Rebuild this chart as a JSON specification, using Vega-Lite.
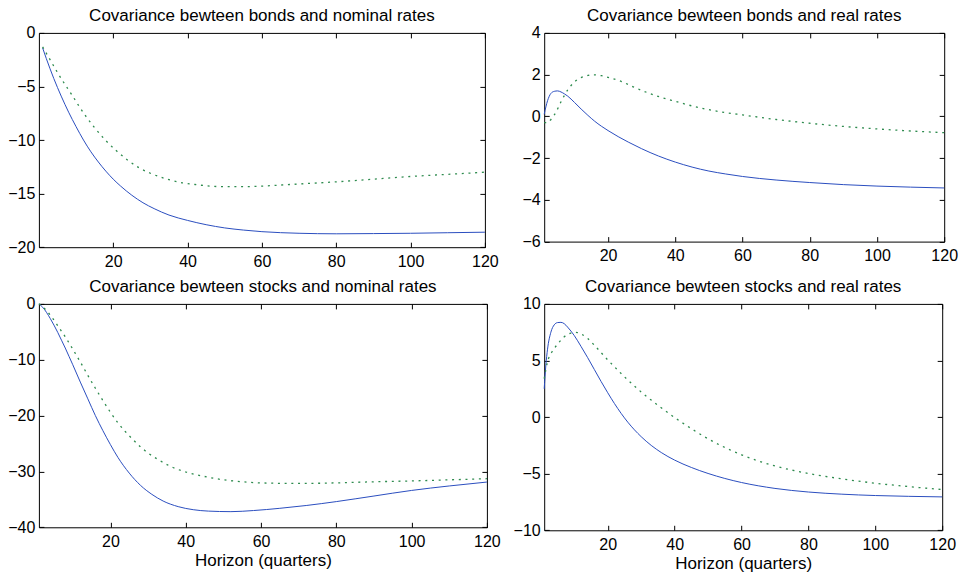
{
  "$schema": "https://vega.github.io/schema/vega-lite/v6.json",
  "background": "white",
  "padding": {"left": 6.9, "top": 6.9, "right": 5, "bottom": 5},
  "config": {
    "font": "Liberation Sans",
    "view": {"stroke": "#000", "strokeWidth": 1},
    "axis": {
      "domain": false, "grid": false,
      "labelFont": "Liberation Sans", "labelFontSize": 16, "labelColor": "#000",
      "labelFlush": false, "labelOverlap": false,
      "tickColor": "#000", "tickSize": -5, "tickWidth": 1,
      "titleFont": "Liberation Sans", "titleFontSize": 17, "titleFontWeight": "normal", "titleColor": "#000", "titlePadding": 3
    },
    "axisX": {"labelPadding": 11.3},
    "axisY": {"labelPadding": 9},
    "axisTop": {"minExtent": 0, "maxExtent": 0},
    "axisRight": {"minExtent": 0, "maxExtent": 0},
    "title": {"font": "Liberation Sans", "fontSize": 17, "fontWeight": "normal", "color": "#000", "anchor": "middle", "baseline": "alphabetic", "offset": -0.5, "frame": "group"}
  },
  "datasets": {
    "tl": [
      {"s":"solid","h":1,"v":-1.4},{"s":"solid","h":2,"v":-2.4},{"s":"solid","h":3,"v":-3.35},{"s":"solid","h":4,"v":-4.25},{"s":"solid","h":5,"v":-5.1},{"s":"solid","h":6,"v":-5.9},{"s":"solid","h":8,"v":-7.4},{"s":"solid","h":10,"v":-8.75},{"s":"solid","h":12,"v":-10.0},{"s":"solid","h":14,"v":-11.1},{"s":"solid","h":16,"v":-12.05},{"s":"solid","h":18,"v":-12.9},{"s":"solid","h":20,"v":-13.65},{"s":"solid","h":22,"v":-14.3},{"s":"solid","h":25,"v":-15.15},{"s":"solid","h":28,"v":-15.85},{"s":"solid","h":31,"v":-16.4},{"s":"solid","h":35,"v":-17.0},{"s":"solid","h":40,"v":-17.5},{"s":"solid","h":45,"v":-17.9},{"s":"solid","h":50,"v":-18.2},{"s":"solid","h":55,"v":-18.4},{"s":"solid","h":60,"v":-18.55},{"s":"solid","h":70,"v":-18.7},{"s":"solid","h":80,"v":-18.75},{"s":"solid","h":90,"v":-18.73},{"s":"solid","h":100,"v":-18.7},{"s":"solid","h":110,"v":-18.65},{"s":"solid","h":120,"v":-18.6},
      {"s":"dotted","h":1,"v":-1.3},{"s":"dotted","h":3,"v":-2.5},{"s":"dotted","h":5,"v":-3.7},{"s":"dotted","h":7,"v":-4.8},{"s":"dotted","h":9,"v":-5.85},{"s":"dotted","h":11,"v":-6.95},{"s":"dotted","h":13,"v":-7.95},{"s":"dotted","h":15,"v":-8.85},{"s":"dotted","h":18,"v":-10.05},{"s":"dotted","h":21,"v":-11.05},{"s":"dotted","h":24,"v":-11.9},{"s":"dotted","h":27,"v":-12.6},{"s":"dotted","h":30,"v":-13.1},{"s":"dotted","h":34,"v":-13.6},{"s":"dotted","h":38,"v":-13.95},{"s":"dotted","h":42,"v":-14.15},{"s":"dotted","h":46,"v":-14.3},{"s":"dotted","h":50,"v":-14.35},{"s":"dotted","h":55,"v":-14.35},{"s":"dotted","h":60,"v":-14.3},{"s":"dotted","h":65,"v":-14.2},{"s":"dotted","h":70,"v":-14.1},{"s":"dotted","h":80,"v":-13.9},{"s":"dotted","h":90,"v":-13.65},{"s":"dotted","h":100,"v":-13.4},{"s":"dotted","h":110,"v":-13.2},{"s":"dotted","h":120,"v":-13.0}
    ],
    "tr": [
      {"s":"solid","h":1,"v":0.1},{"s":"solid","h":2,"v":0.75},{"s":"solid","h":3,"v":1.1},{"s":"solid","h":4,"v":1.2},{"s":"solid","h":5,"v":1.22},{"s":"solid","h":6,"v":1.17},{"s":"solid","h":7,"v":1.08},{"s":"solid","h":8,"v":0.97},{"s":"solid","h":10,"v":0.67},{"s":"solid","h":12,"v":0.35},{"s":"solid","h":14,"v":0.05},{"s":"solid","h":16,"v":-0.23},{"s":"solid","h":18,"v":-0.47},{"s":"solid","h":20,"v":-0.68},{"s":"solid","h":23,"v":-0.97},{"s":"solid","h":26,"v":-1.23},{"s":"solid","h":30,"v":-1.55},{"s":"solid","h":35,"v":-1.9},{"s":"solid","h":40,"v":-2.19},{"s":"solid","h":45,"v":-2.43},{"s":"solid","h":50,"v":-2.62},{"s":"solid","h":55,"v":-2.76},{"s":"solid","h":60,"v":-2.88},{"s":"solid","h":70,"v":-3.05},{"s":"solid","h":80,"v":-3.17},{"s":"solid","h":90,"v":-3.27},{"s":"solid","h":100,"v":-3.34},{"s":"solid","h":110,"v":-3.39},{"s":"solid","h":120,"v":-3.43},
      {"s":"dotted","h":1,"v":-0.3},{"s":"dotted","h":2,"v":-0.3},{"s":"dotted","h":3,"v":-0.15},{"s":"dotted","h":4,"v":0.07},{"s":"dotted","h":5,"v":0.36},{"s":"dotted","h":6,"v":0.7},{"s":"dotted","h":7,"v":1.0},{"s":"dotted","h":8,"v":1.27},{"s":"dotted","h":9,"v":1.48},{"s":"dotted","h":10,"v":1.65},{"s":"dotted","h":12,"v":1.86},{"s":"dotted","h":14,"v":1.96},{"s":"dotted","h":16,"v":1.99},{"s":"dotted","h":18,"v":1.95},{"s":"dotted","h":20,"v":1.87},{"s":"dotted","h":24,"v":1.67},{"s":"dotted","h":28,"v":1.38},{"s":"dotted","h":32,"v":1.12},{"s":"dotted","h":36,"v":0.9},{"s":"dotted","h":40,"v":0.72},{"s":"dotted","h":45,"v":0.5},{"s":"dotted","h":50,"v":0.32},{"s":"dotted","h":55,"v":0.18},{"s":"dotted","h":60,"v":0.07},{"s":"dotted","h":70,"v":-0.15},{"s":"dotted","h":80,"v":-0.33},{"s":"dotted","h":90,"v":-0.48},{"s":"dotted","h":100,"v":-0.6},{"s":"dotted","h":110,"v":-0.7},{"s":"dotted","h":120,"v":-0.78}
    ],
    "bl": [
      {"s":"solid","h":1,"v":0},{"s":"solid","h":2,"v":-0.6},{"s":"solid","h":3,"v":-1.5},{"s":"solid","h":4,"v":-2.6},{"s":"solid","h":5,"v":-3.8},{"s":"solid","h":6,"v":-5.1},{"s":"solid","h":7,"v":-6.5},{"s":"solid","h":8,"v":-7.9},{"s":"solid","h":9,"v":-9.4},{"s":"solid","h":10,"v":-10.9},{"s":"solid","h":12,"v":-14.0},{"s":"solid","h":14,"v":-17.0},{"s":"solid","h":16,"v":-20.0},{"s":"solid","h":18,"v":-22.7},{"s":"solid","h":20,"v":-25.2},{"s":"solid","h":22,"v":-27.5},{"s":"solid","h":25,"v":-30.3},{"s":"solid","h":28,"v":-32.5},{"s":"solid","h":31,"v":-34.1},{"s":"solid","h":34,"v":-35.3},{"s":"solid","h":38,"v":-36.3},{"s":"solid","h":42,"v":-36.85},{"s":"solid","h":46,"v":-37.1},{"s":"solid","h":52,"v":-37.2},{"s":"solid","h":58,"v":-37.0},{"s":"solid","h":65,"v":-36.6},{"s":"solid","h":72,"v":-36.1},{"s":"solid","h":80,"v":-35.4},{"s":"solid","h":90,"v":-34.4},{"s":"solid","h":100,"v":-33.4},{"s":"solid","h":110,"v":-32.6},{"s":"solid","h":120,"v":-31.9},
      {"s":"dotted","h":1,"v":0},{"s":"dotted","h":2,"v":-0.5},{"s":"dotted","h":3,"v":-1.2},{"s":"dotted","h":4,"v":-2.0},{"s":"dotted","h":5,"v":-2.9},{"s":"dotted","h":6,"v":-3.9},{"s":"dotted","h":8,"v":-5.9},{"s":"dotted","h":10,"v":-8.1},{"s":"dotted","h":12,"v":-10.4},{"s":"dotted","h":14,"v":-12.8},{"s":"dotted","h":16,"v":-15.1},{"s":"dotted","h":18,"v":-17.3},{"s":"dotted","h":20,"v":-19.4},{"s":"dotted","h":22,"v":-21.3},{"s":"dotted","h":24,"v":-22.9},{"s":"dotted","h":26,"v":-24.3},{"s":"dotted","h":28,"v":-25.6},{"s":"dotted","h":30,"v":-26.7},{"s":"dotted","h":33,"v":-28.0},{"s":"dotted","h":36,"v":-29.1},{"s":"dotted","h":40,"v":-30.1},{"s":"dotted","h":45,"v":-30.9},{"s":"dotted","h":50,"v":-31.5},{"s":"dotted","h":55,"v":-31.85},{"s":"dotted","h":60,"v":-32.05},{"s":"dotted","h":70,"v":-32.15},{"s":"dotted","h":80,"v":-32.05},{"s":"dotted","h":90,"v":-31.85},{"s":"dotted","h":100,"v":-31.7},{"s":"dotted","h":110,"v":-31.5},{"s":"dotted","h":120,"v":-31.3}
    ],
    "br": [
      {"s":"solid","h":1,"v":2.5},{"s":"solid","h":1.5,"v":4.6},{"s":"solid","h":2,"v":6.0},{"s":"solid","h":3,"v":7.5},{"s":"solid","h":4,"v":8.15},{"s":"solid","h":5,"v":8.35},{"s":"solid","h":6,"v":8.37},{"s":"solid","h":7,"v":8.25},{"s":"solid","h":8,"v":7.95},{"s":"solid","h":10,"v":7.2},{"s":"solid","h":12,"v":6.25},{"s":"solid","h":14,"v":5.25},{"s":"solid","h":16,"v":4.2},{"s":"solid","h":18,"v":3.15},{"s":"solid","h":20,"v":2.15},{"s":"solid","h":22,"v":1.2},{"s":"solid","h":24,"v":0.33},{"s":"solid","h":26,"v":-0.45},{"s":"solid","h":28,"v":-1.13},{"s":"solid","h":30,"v":-1.73},{"s":"solid","h":33,"v":-2.5},{"s":"solid","h":36,"v":-3.13},{"s":"solid","h":40,"v":-3.8},{"s":"solid","h":45,"v":-4.45},{"s":"solid","h":50,"v":-4.98},{"s":"solid","h":55,"v":-5.42},{"s":"solid","h":60,"v":-5.78},{"s":"solid","h":70,"v":-6.3},{"s":"solid","h":80,"v":-6.62},{"s":"solid","h":90,"v":-6.81},{"s":"solid","h":100,"v":-6.93},{"s":"solid","h":110,"v":-7.0},{"s":"solid","h":120,"v":-7.05},
      {"s":"dotted","h":1,"v":3.4},{"s":"dotted","h":1.5,"v":4.2},{"s":"dotted","h":2,"v":4.9},{"s":"dotted","h":3,"v":5.6},{"s":"dotted","h":4,"v":6.05},{"s":"dotted","h":5,"v":6.45},{"s":"dotted","h":6,"v":6.8},{"s":"dotted","h":7,"v":7.1},{"s":"dotted","h":8,"v":7.3},{"s":"dotted","h":9,"v":7.42},{"s":"dotted","h":10,"v":7.48},{"s":"dotted","h":11,"v":7.47},{"s":"dotted","h":12,"v":7.35},{"s":"dotted","h":14,"v":6.95},{"s":"dotted","h":16,"v":6.35},{"s":"dotted","h":18,"v":5.7},{"s":"dotted","h":20,"v":5.05},{"s":"dotted","h":22,"v":4.45},{"s":"dotted","h":24,"v":3.85},{"s":"dotted","h":26,"v":3.28},{"s":"dotted","h":28,"v":2.74},{"s":"dotted","h":30,"v":2.22},{"s":"dotted","h":33,"v":1.5},{"s":"dotted","h":36,"v":0.82},{"s":"dotted","h":40,"v":-0.04},{"s":"dotted","h":45,"v":-1.02},{"s":"dotted","h":50,"v":-1.92},{"s":"dotted","h":55,"v":-2.68},{"s":"dotted","h":60,"v":-3.33},{"s":"dotted","h":65,"v":-3.87},{"s":"dotted","h":70,"v":-4.32},{"s":"dotted","h":80,"v":-4.98},{"s":"dotted","h":90,"v":-5.46},{"s":"dotted","h":100,"v":-5.84},{"s":"dotted","h":110,"v":-6.14},{"s":"dotted","h":120,"v":-6.4}
    ]
  },
  "bounds": "flush",
  "columns": 2,
  "spacing": {"row": 56, "column": 57.3},
  "concat": [
    {
      "width": 446, "height": 214.3,
      "title": "Covariance bewteen bonds and nominal rates",
      "data": {"name": "tl"},
      "resolve": {"axis": {"x": "independent", "y": "independent"}},
      "layer": [
        {
          "transform": [{"filter": "datum.s === 'solid'"}],
          "mark": {"type": "line", "color": "#2a4dbf", "strokeWidth": 1, "interpolate": "monotone"},
          "encoding": {
            "x": {"field": "h", "type": "quantitative", "scale": {"domain": [0, 120], "nice": false, "zero": false}, "axis": {"values": [20, 40, 60, 80, 100, 120], "title": null}},
            "y": {"field": "v", "type": "quantitative", "scale": {"domain": [-20, 0], "nice": false, "zero": false}, "axis": {"values": [-20, -15, -10, -5, 0], "title": null}}
          }
        },
        {
          "transform": [{"filter": "datum.s === 'dotted'"}],
          "mark": {"type": "line", "color": "#2e8b4e", "strokeWidth": 1.3, "strokeDash": [2, 4.7], "interpolate": "monotone"},
          "encoding": {
            "x": {"field": "h", "type": "quantitative", "scale": {"domain": [0, 120], "nice": false, "zero": false}, "axis": {"orient": "top", "labels": false, "values": [20, 40, 60, 80, 100, 120], "title": null}},
            "y": {"field": "v", "type": "quantitative", "scale": {"domain": [-20, 0], "nice": false, "zero": false}, "axis": {"orient": "right", "labels": false, "values": [-20, -15, -10, -5, 0], "title": null}}
          }
        }
      ]
    },
    {
      "width": 400, "height": 208.7,
      "title": "Covariance bewteen bonds and real rates",
      "data": {"name": "tr"},
      "resolve": {"axis": {"x": "independent", "y": "independent"}},
      "layer": [
        {
          "transform": [{"filter": "datum.s === 'solid'"}],
          "mark": {"type": "line", "color": "#2a4dbf", "strokeWidth": 1, "interpolate": "monotone"},
          "encoding": {
            "x": {"field": "h", "type": "quantitative", "scale": {"domain": [1, 120], "nice": false, "zero": false}, "axis": {"values": [20, 40, 60, 80, 100, 120], "title": null}},
            "y": {"field": "v", "type": "quantitative", "scale": {"domain": [-6, 4], "nice": false, "zero": false}, "axis": {"values": [-6, -4, -2, 0, 2, 4], "title": null}}
          }
        },
        {
          "transform": [{"filter": "datum.s === 'dotted'"}],
          "mark": {"type": "line", "color": "#2e8b4e", "strokeWidth": 1.3, "strokeDash": [2, 4.7], "interpolate": "monotone"},
          "encoding": {
            "x": {"field": "h", "type": "quantitative", "scale": {"domain": [1, 120], "nice": false, "zero": false}, "axis": {"orient": "top", "labels": false, "values": [20, 40, 60, 80, 100, 120], "title": null}},
            "y": {"field": "v", "type": "quantitative", "scale": {"domain": [-6, 4], "nice": false, "zero": false}, "axis": {"orient": "right", "labels": false, "values": [-6, -4, -2, 0, 2, 4], "title": null}}
          }
        }
      ]
    },
    {
      "width": 448, "height": 223.4,
      "title": "Covariance bewteen stocks and nominal rates",
      "data": {"name": "bl"},
      "resolve": {"axis": {"x": "independent", "y": "independent"}},
      "layer": [
        {
          "transform": [{"filter": "datum.s === 'solid'"}],
          "mark": {"type": "line", "color": "#2a4dbf", "strokeWidth": 1, "interpolate": "monotone"},
          "encoding": {
            "x": {"field": "h", "type": "quantitative", "scale": {"domain": [1, 120], "nice": false, "zero": false}, "axis": {"values": [20, 40, 60, 80, 100, 120], "title": "Horizon (quarters)"}},
            "y": {"field": "v", "type": "quantitative", "scale": {"domain": [-40, 0], "nice": false, "zero": false}, "axis": {"values": [-40, -30, -20, -10, 0], "title": null}}
          }
        },
        {
          "transform": [{"filter": "datum.s === 'dotted'"}],
          "mark": {"type": "line", "color": "#2e8b4e", "strokeWidth": 1.3, "strokeDash": [2, 4.7], "interpolate": "monotone"},
          "encoding": {
            "x": {"field": "h", "type": "quantitative", "scale": {"domain": [1, 120], "nice": false, "zero": false}, "axis": {"orient": "top", "labels": false, "values": [20, 40, 60, 80, 100, 120], "title": null}},
            "y": {"field": "v", "type": "quantitative", "scale": {"domain": [-40, 0], "nice": false, "zero": false}, "axis": {"orient": "right", "labels": false, "values": [-40, -30, -20, -10, 0], "title": null}}
          }
        }
      ]
    },
    {
      "width": 398, "height": 226.4,
      "title": "Covariance bewteen stocks and real rates",
      "data": {"name": "br"},
      "resolve": {"axis": {"x": "independent", "y": "independent"}},
      "layer": [
        {
          "transform": [{"filter": "datum.s === 'solid'"}],
          "mark": {"type": "line", "color": "#2a4dbf", "strokeWidth": 1, "interpolate": "monotone"},
          "encoding": {
            "x": {"field": "h", "type": "quantitative", "scale": {"domain": [1, 120], "nice": false, "zero": false}, "axis": {"values": [20, 40, 60, 80, 100, 120], "title": "Horizon (quarters)"}},
            "y": {"field": "v", "type": "quantitative", "scale": {"domain": [-10, 10], "nice": false, "zero": false}, "axis": {"values": [-10, -5, 0, 5, 10], "title": null}}
          }
        },
        {
          "transform": [{"filter": "datum.s === 'dotted'"}],
          "mark": {"type": "line", "color": "#2e8b4e", "strokeWidth": 1.3, "strokeDash": [2, 4.7], "interpolate": "monotone"},
          "encoding": {
            "x": {"field": "h", "type": "quantitative", "scale": {"domain": [1, 120], "nice": false, "zero": false}, "axis": {"orient": "top", "labels": false, "values": [20, 40, 60, 80, 100, 120], "title": null}},
            "y": {"field": "v", "type": "quantitative", "scale": {"domain": [-10, 10], "nice": false, "zero": false}, "axis": {"orient": "right", "labels": false, "values": [-10, -5, 0, 5, 10], "title": null}}
          }
        }
      ]
    }
  ]
}
